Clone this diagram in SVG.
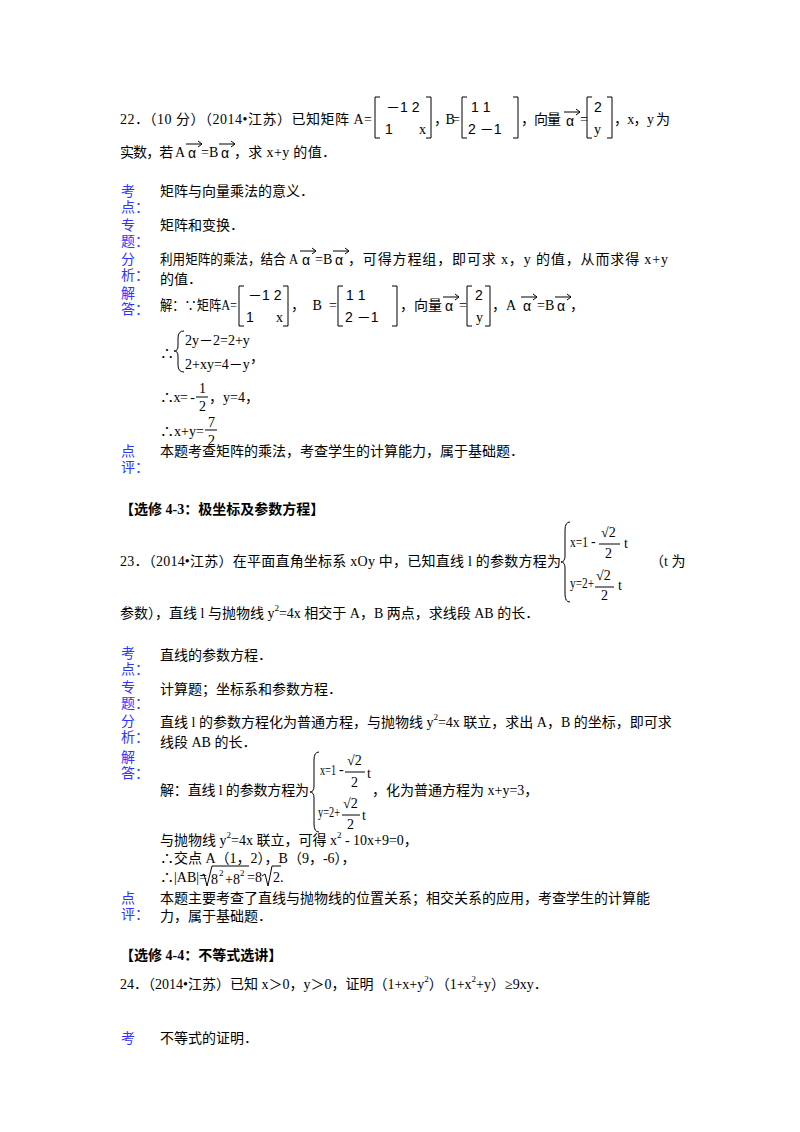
<svg xmlns="http://www.w3.org/2000/svg" width="800" height="1132" viewBox="0 0 800 1132">
<style>
text{font-family:"Liberation Serif","Noto Sans CJK SC",serif;font-size:14px;fill:#000}
.l{fill:#3333ff}
.b{font-weight:bold}
.s{font-size:9px}
.m{font-family:"Liberation Sans","Noto Sans CJK SC",sans-serif;font-size:14px}
.k{fill:none;stroke:#000;stroke-width:1}
</style>
<defs>
<g id="vec"><text x="0" y="0" class="m">α</text><path d="M-2,-14 H14 M10,-17 L14,-14 L10,-11" class="k"/></g>
</defs>
<rect width="800" height="1132" fill="#fff"/>
<!-- Q22 -->
<text x="120" y="124" textLength="252" lengthAdjust="spacing">22．（10 分）（2014•江苏）已知矩阵 A=</text>
<path d="M380,97 H375 V138 H380 M426,97 H431 V138 H426" class="k"/>
<text x="386" y="112" class="m">－1  2</text><text x="385" y="134" class="m">1</text><text x="419" y="134">x</text>
<text x="434" y="124" textLength="26" lengthAdjust="spacing">，B=</text>
<path d="M467,97 H462 V138 H467 M513,97 H518 V138 H513" class="k"/>
<text x="471" y="112" class="m">1  1</text><text x="468" y="134" class="m">2  －1</text>
<text x="521" y="124" textLength="40" lengthAdjust="spacing">，向量</text>
<use href="#vec" x="566" y="126"/>
<text x="580" y="124">=</text>
<path d="M592,97 H587 V138 H592 M607,97 H612 V138 H607" class="k"/>
<text x="594" y="112" class="m">2</text><text x="594" y="134">y</text>
<text x="614" y="124" textLength="56" lengthAdjust="spacing">，x，y 为</text>
<text x="120" y="157" textLength="65" lengthAdjust="spacing">实数，若 A</text><use href="#vec" x="188" y="158"/><text x="201" y="157">=B</text><use href="#vec" x="221" y="158"/><text x="234" y="157" textLength="102" lengthAdjust="spacing">，求 x+y 的值．</text>

<text x="121" y="196" class="l">考</text><text x="121" y="212" class="l">点：</text>
<text x="160" y="196">矩阵与向量乘法的意义．</text>
<text x="121" y="230" class="l">专</text><text x="121" y="246" class="l">题：</text>
<text x="160" y="230">矩阵和变换．</text>
<text x="121" y="264" class="l">分</text><text x="121" y="280" class="l">析：</text>
<text x="160" y="264" textLength="138" lengthAdjust="spacingAndGlyphs">利用矩阵的乘法，结合 A</text><use href="#vec" x="302" y="265"/><text x="315" y="264">=B</text><use href="#vec" x="335" y="265"/><text x="348" y="264" textLength="320" lengthAdjust="spacing">，可得方程组，即可求 x，y 的值，从而求得 x+y</text>
<text x="160" y="284">的值．</text>
<text x="121" y="298" class="l">解</text><text x="121" y="314" class="l">答：</text>
<text x="160" y="310" textLength="77" lengthAdjust="spacingAndGlyphs">解：∵矩阵A=</text>
<path d="M244,286 H239 V326 H244 M283,286 H288 V326 H283" class="k"/>
<text x="248" y="300" class="m">－1  2</text><text x="246" y="322" class="m">1</text><text x="276" y="322">x</text>
<text x="291" y="310" textLength="46" lengthAdjust="spacing">，B=</text>
<path d="M343,286 H338 V326 H343 M392,286 H397 V326 H392" class="k"/>
<text x="346" y="300" class="m">1  1</text><text x="345" y="322" class="m">2  －1</text>
<text x="400" y="310" textLength="42" lengthAdjust="spacing">，向量</text>
<use href="#vec" x="445" y="311"/><text x="459" y="310">=</text>
<path d="M472,286 H467 V326 H472 M485,286 H490 V326 H485" class="k"/>
<text x="475" y="300" class="m">2</text><text x="476" y="322">y</text>
<text x="492" y="310">，A</text><use href="#vec" x="523" y="311"/><text x="537" y="310">=B</text><use href="#vec" x="557" y="311"/><text x="570" y="310">，</text>
<path d="M184,331 Q178,331 178,338 V346 Q178,351 174,351 Q178,351 178,356 V365 Q178,372 184,372" class="k"/>
<text x="160" y="358">∴</text>
<text x="185" y="345">2y－2=2+y</text>
<text x="185" y="369">2+xy=4－y</text><text x="250" y="362">，</text>
<text x="160" y="402" textLength="35" lengthAdjust="spacing">∴x= -</text>
<text x="199" y="393">1</text><path d="M196,397 H208" class="k"/><text x="199" y="411">2</text>
<text x="209" y="402">，y=4，</text>
<text x="160" y="436">∴x+y=</text>
<text x="208" y="427">7</text><path d="M205,430 H217" class="k"/><text x="208" y="445">2</text>
<text x="121" y="456" class="l">点</text><text x="121" y="472" class="l">评：</text>
<text x="160" y="456">本题考查矩阵的乘法，考查学生的计算能力，属于基础题．</text>

<!-- Q23 -->
<text x="120" y="514" class="b">【选修 4-3：极坐标及参数方程】</text>
<text x="120" y="566" textLength="441" lengthAdjust="spacing">23．（2014•江苏）在平面直角坐标系 xOy 中，已知直线 l 的参数方程为</text>
<path d="M570,522 Q565,522 565,530 V556 Q565,562 561,562 Q565,562 565,568 V594 Q565,602 570,602" class="k"/>
<text x="570" y="547" textLength="18" lengthAdjust="spacingAndGlyphs">x=1</text><text x="591" y="546">-</text>
<text x="601" y="537">√2</text><path d="M599,544 H620" class="k"/><text x="605" y="558">2</text><text x="624" y="548">t</text>
<text x="570" y="588" textLength="24" lengthAdjust="spacingAndGlyphs">y=2+</text>
<text x="596" y="580">√2</text><path d="M595,587 H614" class="k"/><text x="601" y="600">2</text><text x="618" y="590">t</text>
<text x="650" y="566">（t 为</text>
<text x="120" y="618">参数），直线 l 与抛物线 y<tspan dy="-7" class="s">2</tspan><tspan dy="7">=4x 相交于 A，B 两点，求线段 AB 的长．</tspan></text>

<text x="121" y="658" class="l">考</text><text x="121" y="674" class="l">点：</text>
<text x="160" y="660">直线的参数方程．</text>
<text x="121" y="692" class="l">专</text><text x="121" y="708" class="l">题：</text>
<text x="160" y="694">计算题；坐标系和参数方程．</text>
<text x="121" y="726" class="l">分</text><text x="121" y="742" class="l">析：</text>
<text x="160" y="727">直线 l 的参数方程化为普通方程，与抛物线 y<tspan dy="-7" class="s">2</tspan><tspan dy="7">=4x 联立，求出 A，B 的坐标，即可求</tspan></text>
<text x="160" y="747">线段 AB 的长．</text>
<text x="121" y="762" class="l">解</text><text x="121" y="778" class="l">答：</text>
<text x="160" y="795" textLength="149" lengthAdjust="spacing">解：直线 l 的参数方程为</text>
<path d="M319,752 Q314,752 314,760 V786 Q314,792 310,792 Q314,792 314,798 V824 Q314,832 319,832" class="k"/>
<text x="320" y="775" textLength="16" lengthAdjust="spacingAndGlyphs">x=1</text><text x="339" y="774">-</text>
<text x="347" y="765">√2</text><path d="M345,772 H365" class="k"/><text x="351" y="787">2</text><text x="367" y="778">t</text>
<text x="318" y="817" textLength="22" lengthAdjust="spacingAndGlyphs">y=2+</text>
<text x="343" y="808">√2</text><path d="M342,815 H360" class="k"/><text x="347" y="829">2</text><text x="362" y="820">t</text>
<text x="372" y="795">，化为普通方程为 x+y=3，</text>
<text x="160" y="845">与抛物线 y<tspan dy="-7" class="s">2</tspan><tspan dy="7">=4x 联立，可得 x</tspan><tspan dy="-7" class="s">2</tspan><tspan dy="7"> - 10x+9=0，</tspan></text>
<text x="160" y="863">∴交点 A（1，2），B（9，-6），</text>
<text x="160" y="882">∴|AB|=</text>
<path d="M201,876 L204,874 L207,886 L212,866 H249" class="k"/>
<text x="211" y="884">8</text><text x="219" y="876" class="s">2</text><text x="225" y="884">+8</text><text x="240" y="876" class="s">2</text>
<text x="247" y="882">=8</text><path d="M262,876 L265,874 L268,886 L272,866 H281" class="k"/><text x="273" y="882">2.</text>
<text x="121" y="903" class="l">点</text><text x="121" y="919" class="l">评：</text>
<text x="160" y="903">本题主要考查了直线与抛物线的位置关系；相交关系的应用，考查学生的计算能</text>
<text x="160" y="921">力，属于基础题．</text>

<!-- Q24 -->
<text x="120" y="960" class="b">【选修 4-4：不等式选讲】</text>
<text x="120" y="989">24．（2014•江苏）已知 x＞0，y＞0，证明（1+x+y<tspan dy="-7" class="s">2</tspan><tspan dy="7">）（1+x</tspan><tspan dy="-7" class="s">2</tspan><tspan dy="7">+y）≥9xy．</tspan></text>
<text x="121" y="1043" class="l">考</text>
<text x="160" y="1043">不等式的证明．</text>
</svg>
